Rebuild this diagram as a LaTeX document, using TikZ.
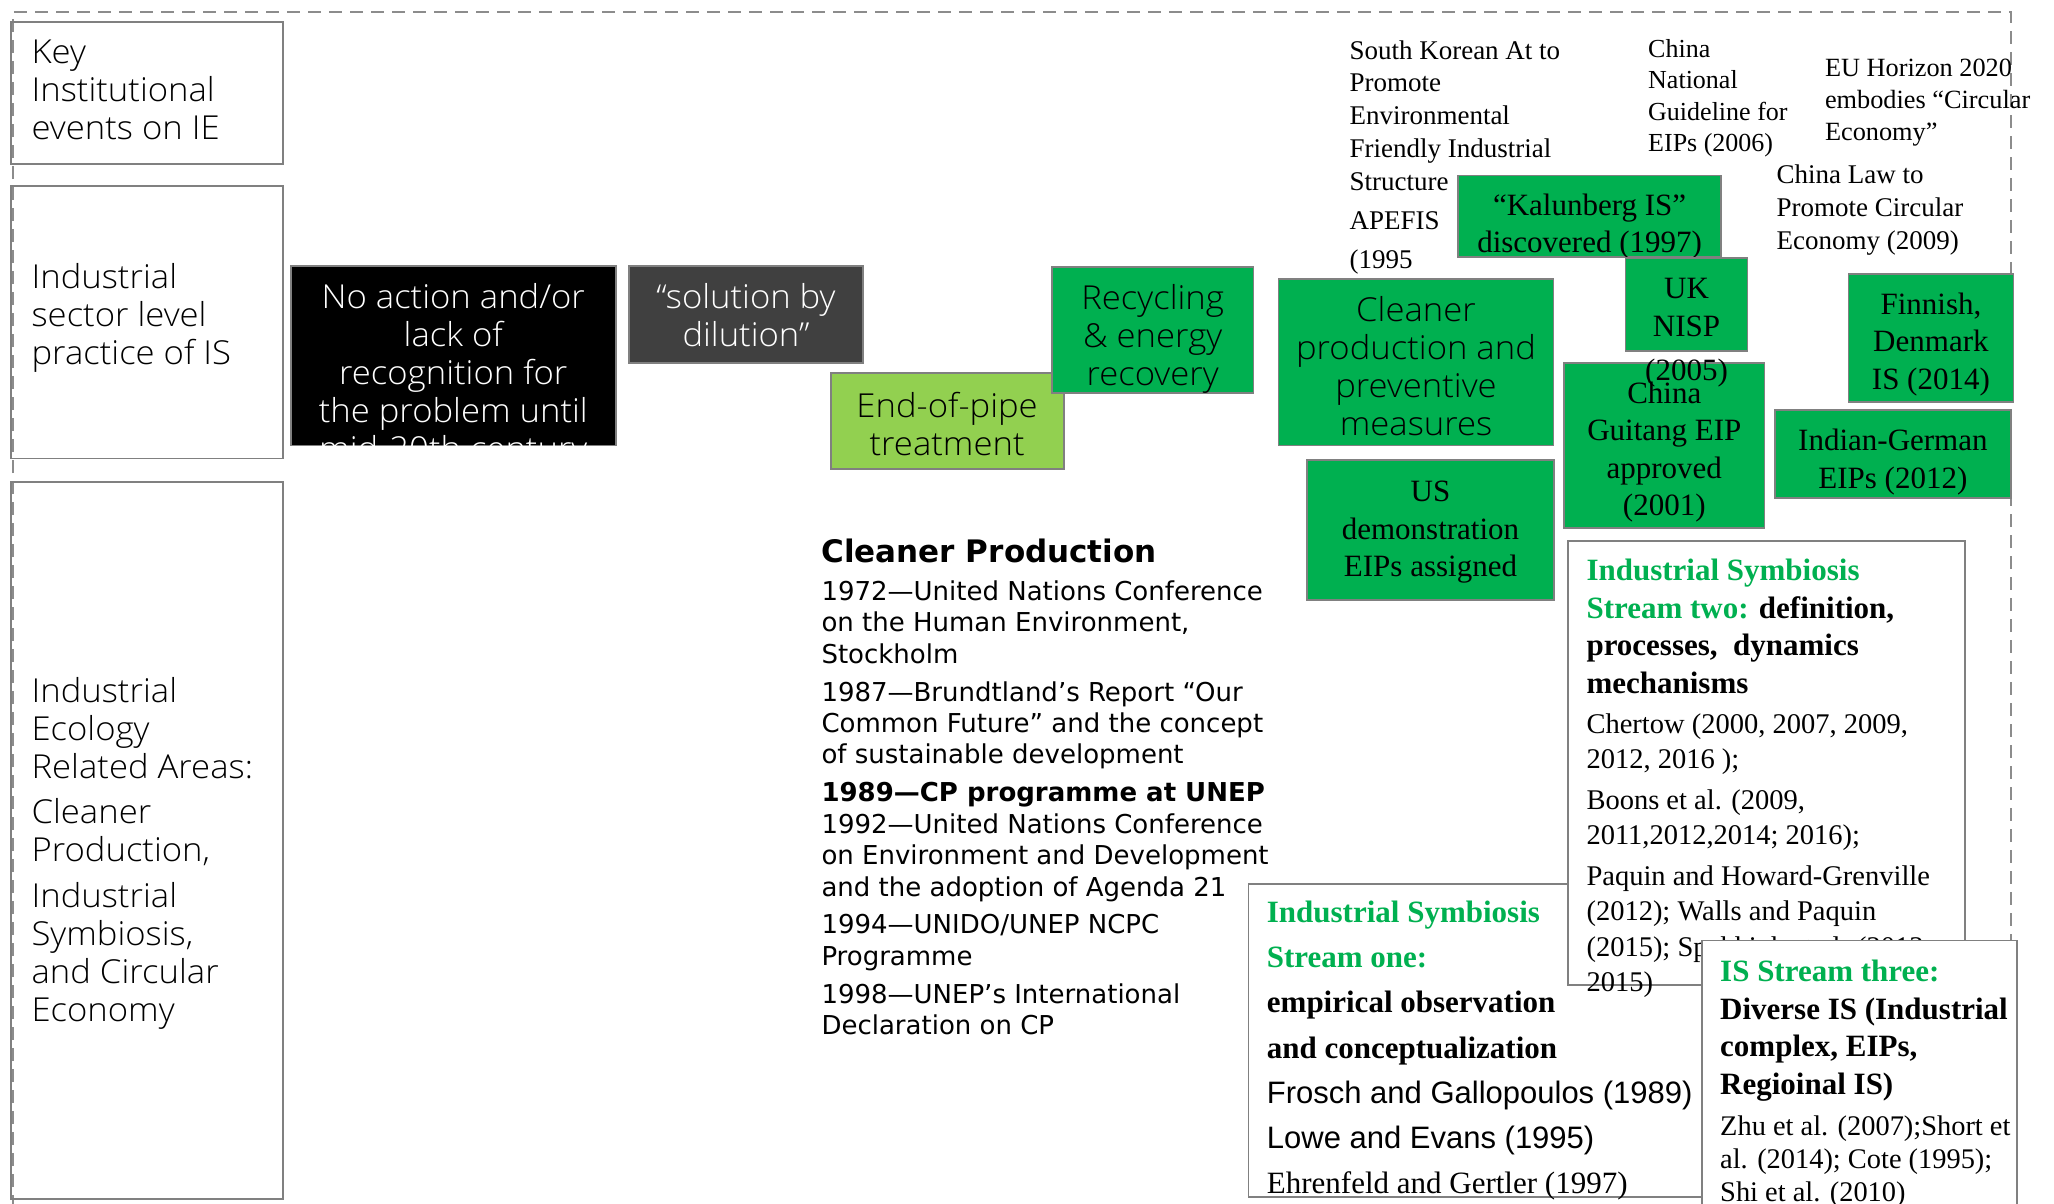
\documentclass[tikz,border=0pt]{standalone}
\usepackage{fontspec}
\setmainfont{Liberation Serif}
\newfontfamily\osans{Open Sans Light}[FakeStretch=1.05]
\newfontfamily\vsans{DejaVu Sans}
\newfontfamily\asans{Liberation Sans}
\newfontfamily\tserif{Liberation Serif}
\definecolor{isgreen}{HTML}{00B050}
\definecolor{lightgreen}{HTML}{92D050}
\definecolor{darkbox}{HTML}{404040}
\definecolor{edge}{HTML}{808080}
\definecolor{dashgray}{HTML}{8C8C8C}
% invisible strut fixing the height of a block's first line
\newcommand{\firststrut}{\rule{0pt}{0.8em}}
\tikzset{
  box/.style={draw=edge, line width=1.8pt, inner sep=0pt, align=center},
  sansfont/.style={font=\osans\fontsize{33}{38}\selectfont},
  serifbox/.style={font=\tserif\fontsize{31}{37.5}\selectfont},
  intext/.style={inner sep=0pt, align=center},
  txt/.style={anchor=north west, inner sep=0pt, align=left},
  ctxt/.style={anchor=north, inner sep=0pt, align=center},
  note/.style={txt, font=\tserif\fontsize{27}{32.7}\selectfont},
}
\begin{document}
\begin{tikzpicture}[x=1pt,y=-1pt]
\useasboundingbox (0,0) rectangle (2054,1203);
\clip (0,0) rectangle (2054,1203);
\fill[white] (0,0) rectangle (2054,1203);

% outer dashed frame
\draw[dashgray, line width=2pt, dash pattern=on 13pt off 8pt] (13,1250) -- (13,12) -- (2011,12) -- (2011,1250);

% row labels
\node[box, minimum width=272pt, minimum height=141.4pt] (keybox) at (147,93) {};
\node[box, minimum width=272pt, minimum height=272.5pt] (sectorbox) at (147,322.2) {};
\node[box, minimum width=272pt, minimum height=717pt] (iebox) at (147,840.5) {};
\node[txt, sansfont] (keytxt) at (31.4,37) {\firststrut Key\\Institutional\\events on IE};
\node[txt, sansfont] (sectortxt) at (31.4,262.3) {\firststrut Industrial\\sector level\\practice of IS};
\node[txt, sansfont] (ietxt) at (31.4,676.3) {\firststrut Industrial\\Ecology\\Related Areas:\\[6.6pt]Cleaner\\Production,\\[7.8pt]Industrial\\Symbiosis,\\and Circular\\Economy};

% practice stages
\node[box, fill=black, minimum width=325pt, minimum height=179.4pt] (noaction) at (453.3,355.7) {};
\begin{scope}
  \clip (noaction.south west) rectangle (noaction.north east);
  \node[ctxt, sansfont, text=white] (noactiontxt) at (453.3,282) {\firststrut No action and/or\\lack of\\recognition for\\the problem until\\mid-20th century};
\end{scope}
\node[box, fill=darkbox, minimum width=234.5pt, minimum height=97pt] (dilution) at (746,314.5) {};
\node[intext, sansfont, text=white] (dilutiontxt) at (746,315.5) {“solution by\\dilution”};
\node[box, fill=lightgreen, minimum width=233pt, minimum height=95.7pt] (endpipe) at (947.1,421.2) {};
\node[intext, sansfont] (endpipetxt) at (947.1,424) {End-of-pipe\\treatment};
\node[box, fill=isgreen, minimum width=201.7pt, minimum height=125.8pt] (recycling) at (1152.7,330.1) {};
\node[intext, sansfont] (recyclingtxt) at (1152.7,339) {Recycling\\\& energy\\recovery};
\node[box, fill=isgreen, minimum width=275pt, minimum height=166.4pt] (cleaner) at (1416,362.2) {};
\node[intext, sansfont] (cleanertxt) at (1416,366.5) {Cleaner\\production and\\preventive\\measures};
\node[box, fill=isgreen, minimum width=246.3pt, minimum height=140.2pt] (usdemo) at (1430.5,529.9) {};
\node[intext, serifbox] (usdemotxt) at (1430.5,532.5) {US\\demonstration\\EIPs assigned};
\node[box, fill=isgreen, minimum width=263.3pt, minimum height=81.3pt] (kalun) at (1589.6,216.2) {};
\node[ctxt, serifbox] (kaluntxt) at (1589.6,190.2) {\firststrut “Kalunberg IS”\\discovered (1997)};
\node[box, fill=isgreen, minimum width=200.5pt, minimum height=165pt] (guitang) at (1664.3,445.4) {};
\node[intext, serifbox] (guitangtxt) at (1664.3,452) {China\\Guitang EIP\\approved\\(2001)};
\node[box, fill=isgreen, minimum width=122pt, minimum height=93pt] (nisp) at (1686.5,304.5) {};
\node[ctxt, serifbox] (nisptxt) at (1686.5,273.5) {\firststrut UK\\NISP\\[7pt](2005)};
\node[box, fill=isgreen, minimum width=165pt, minimum height=128.4pt] (finnish) at (1930.9,338) {};
\node[intext, serifbox] (finnishtxt) at (1930.9,344.5) {Finnish,\\Denmark\\IS (2014)};
\node[box, fill=isgreen, minimum width=235.8pt, minimum height=87.8pt] (indian) at (1892.9,453.9) {};
\node[intext, serifbox] (indiantxt) at (1892.9,462) {Indian-German\\EIPs (2012)};

% institutional events
\node[note] (korea) at (1349.3,37.4) {\firststrut South Korean At to\\Promote\\Environmental\\Friendly Industrial\\Structure\\[6.6pt]APEFIS\\[6.6pt](1995};
\node[note, font=\tserif\fontsize{26}{31.4}\selectfont] (chinanat) at (1648,36.2) {\firststrut China\\National\\Guideline for\\EIPs (2006)};
\node[note, font=\tserif\fontsize{26.3}{32}\selectfont] (horizon) at (1824.8,55) {\firststrut EU Horizon 2020\\embodies “Circular\\Economy”};
\node[note] (chinalaw) at (1776.3,162) {\firststrut China Law to\\Promote Circular\\Economy (2009)};

% cleaner production milestones
\node[txt, font=\vsans\bfseries\fontsize{31}{37}\selectfont] (cptitle) at (821.3,537.9) {\firststrut Cleaner Production};
\node[txt, font=\vsans\fontsize{26}{31.4}\selectfont] (cplist) at (821.3,579.4) {\firststrut 1972—United Nations Conference\\on the Human Environment,\\Stockholm\\[6.5pt]1987—Brundtland’s Report “Our\\Common Future” and the concept\\of sustainable development\\[6.5pt]\textbf{1989—CP programme at UNEP}\\1992—United Nations Conference\\on Environment and Development\\and the adoption of Agenda 21\\[6.5pt]1994—UNIDO/UNEP NCPC\\Programme\\[6.5pt]1998—UNEP’s International\\Declaration on CP};

% IS stream one
\node[box, fill=white, minimum width=471.6pt, minimum height=313pt] (s1) at (1484.2,1040.5) {};
\node[txt, font=\tserif\fontsize{31}{45.2}\selectfont] (s1txt) at (1266.7,897.5) {\firststrut\textcolor{isgreen}{\textbf{Industrial Symbiosis}}\\\textcolor{isgreen}{\textbf{Stream one:}}\\\textbf{empirical observation}\\\textbf{and conceptualization}\\{\asans Frosch and Gallopoulos (1989)}\\{\asans Lowe and Evans (1995)}\\Ehrenfeld and Gertler (1997)};

% IS stream two
\node[box, fill=white, minimum width=397pt, minimum height=444pt] (s2) at (1766.5,763) {};
\node[txt, font=\tserif\bfseries\fontsize{31}{37.6}\selectfont] (s2head) at (1586.3,555.7) {\firststrut\textcolor{isgreen}{Industrial Symbiosis}\\\textcolor{isgreen}{Stream two:} definition,\\processes,\ \ dynamics\\mechanisms};
\node[txt, font=\tserif\fontsize{28.5}{35.5}\selectfont] (s2refs) at (1586.3,710.2) {\firststrut Chertow (2000, 2007, 2009,\\2012, 2016 );\\[5pt]Boons et al. (2009,\\2011,2012,2014; 2016);\\[5pt]Paquin and Howard-Grenville\\(2012); Walls and Paquin\\(2015); Spekkink et al. (2013,\\2015)};

% IS stream three
\node[box, fill=white, minimum width=315.7pt, minimum height=289.5pt] (s3) at (1859.5,1085.3) {};
\node[txt, font=\tserif\bfseries\fontsize{31}{37.5}\selectfont] (s3head) at (1720,956.5) {\firststrut\textcolor{isgreen}{IS Stream three:}\\Diverse IS (Industrial\\complex, EIPs,\\Regioinal IS)};
\node[txt, font=\tserif\fontsize{28.4}{33}\selectfont] (s3refs) at (1720,1112.1) {\firststrut Zhu et al. (2007);Short et\\al. (2014); Cote (1995);\\Shi et al. (2010)};
\end{tikzpicture}
\end{document}
